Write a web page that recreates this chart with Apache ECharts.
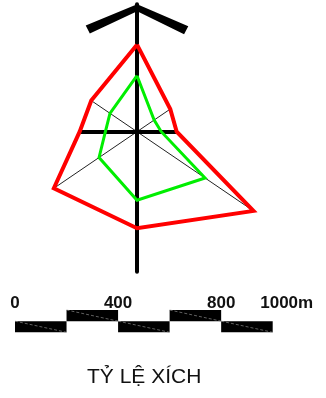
<!doctype html>
<html lang="vi">
  <head>
    <meta charset="utf-8">
    <title>Hoa gió</title>
    <script src="https://cdn.jsdelivr.net/npm/echarts@6.0.0/dist/echarts.min.js"></script>
    <style>
      html, body { margin: 0; padding: 0; background: #fff; }
      #chart { width: 326px; height: 398px; }
    </style>
  </head>
  <body>
    <div id="chart"></div>

  <script>
    // wind directions, clockwise from north
    var directions = ['N', 'NE', 'E', 'SE', 'S', 'SW', 'W', 'NW'];
    var redValues = [17.4, 6.4, 5.4, 22.4, 19.3, 16.0, 7.8, 8.8];
    var greenValues = [11.2, 3.3, 3.3, 13.1, 13.7, 7.3, 4.3, 5.2];

    // scale bar (metres)
    var scaleStarts = [0, 200, 400, 600, 800];
    var scaleEnds = [200, 400, 600, 800, 1000];
    var scaleRows = [0, 1, 0, 1, 0];
    var scaleTickValues = [0, 400, 800, 1000];
    var scaleTickLabels = ['0', '400', '800', '1000m'];

    var titleText = 'TỶ LỆ XÍCH';

    // direction i -> point on the grid (x east, y north)
    function pt(values, i) {
      var a = i * 2 * Math.PI / directions.length;
      return [values[i] * Math.sin(a), values[i] * Math.cos(a)];
    }
    function ring(values) {
      var out = [];
      for (var i = 0; i <= directions.length; i++) out.push(pt(values, i % directions.length));
      return out;
    }

    var scaleData = [];
    for (var i = 0; i < scaleStarts.length; i++) scaleData.push([scaleStarts[i], scaleEnds[i], scaleRows[i]]);

    var chart = echarts.init(document.getElementById('chart'), null, { renderer: 'canvas' });

    var option = {
      animation: false,
      title: {
        text: titleText,
        left: 82,
        top: 362,
        textStyle: { fontFamily: 'Liberation Sans', fontSize: 21, fontWeight: 'normal', color: '#111' }
      },
      grid: [
        { left: 4.7, right: 5.25, top: 4.2, bottom: 126.3 },
        { left: 15, right: 53.3, top: 310, bottom: 65.7 }
      ],
      xAxis: [
        { type: 'value', gridIndex: 0, min: -18, max: 25, show: false },
        {
          type: 'value', gridIndex: 1, min: 0, max: 1000, interval: 200, position: 'top',
          axisLine: { show: false }, axisTick: { show: false }, splitLine: { show: false },
          axisLabel: {
            margin: -1.5,
            fontFamily: 'Liberation Sans', fontSize: 17, fontWeight: 'bold', color: '#111',
            formatter: function (v) {
              var k = scaleTickValues.indexOf(v);
              if (k < 0) return '';
              if (v === 1000) return '{last|' + scaleTickLabels[k] + '}';
              return scaleTickLabels[k];
            },
            rich: {
              last: { fontFamily: 'Liberation Sans', fontSize: 17, fontWeight: 'bold', color: '#111', padding: [0, 0, 0, 28] }
            }
          }
        }
      ],
      yAxis: [
        {
          type: 'value', gridIndex: 0, min: -28, max: 25.5,
          axisLabel: { show: false }, axisTick: { show: false }, splitLine: { show: false },
          axisLine: {
            show: true,
            lineStyle: { color: '#000', width: 4 },
            // north arrow at the top end
            symbol: ['none', 'path://M53,0 L104.1,22 L99.9,30 L53,7 L5.65,29.3 L1.55,21.3 Z'],
            symbolSize: [102.55, 30],
            symbolOffset: [0, -15]
          }
        },
        { type: 'value', gridIndex: 1, min: 0, max: 2, show: false }
      ],
      series: [
        {
          type: 'lines', coordinateSystem: 'cartesian2d', xAxisIndex: 0, yAxisIndex: 0, silent: true,
          lineStyle: { color: '#222', width: 1, opacity: 1 },
          data: [
            { coords: [pt(redValues, 7), pt(redValues, 3)] },
            { coords: [pt(redValues, 1), pt(redValues, 5)] }
          ]
        },
        {
          type: 'lines', coordinateSystem: 'cartesian2d', xAxisIndex: 0, yAxisIndex: 0, silent: true,
          lineStyle: { color: '#000', width: 4, opacity: 1 },
          data: [{ coords: [pt(redValues, 6), pt(redValues, 2)] }]
        },
        {
          type: 'line', xAxisIndex: 0, yAxisIndex: 0, symbol: 'none', silent: true,
          lineStyle: { color: '#00ee00', width: 3, join: 'miter' },
          data: ring(greenValues)
        },
        {
          type: 'line', xAxisIndex: 0, yAxisIndex: 0, symbol: 'none', silent: true,
          lineStyle: { color: '#ff0000', width: 4, join: 'miter' },
          data: ring(redValues)
        },
        {
          type: 'custom', xAxisIndex: 1, yAxisIndex: 1, silent: true,
          encode: { x: [0, 1], y: 2 },
          renderItem: function (params, api) {
            var p0 = api.coord([api.value(0), api.value(2) + 1]);
            var p1 = api.coord([api.value(1), api.value(2)]);
            return {
              type: 'group',
              children: [
                { type: 'rect', shape: { x: p0[0], y: p0[1], width: p1[0] - p0[0], height: p1[1] - p0[1] }, style: { fill: '#000' } },
                { type: 'line', shape: { x1: p0[0], y1: p0[1], x2: p1[0], y2: p1[1] }, style: { stroke: '#8a8a8a', lineWidth: 0.7, lineDash: [3, 2] } }
              ]
            };
          },
          data: scaleData
        }
      ]
    };

    chart.setOption(option);
  </script>
  </body>
</html>
